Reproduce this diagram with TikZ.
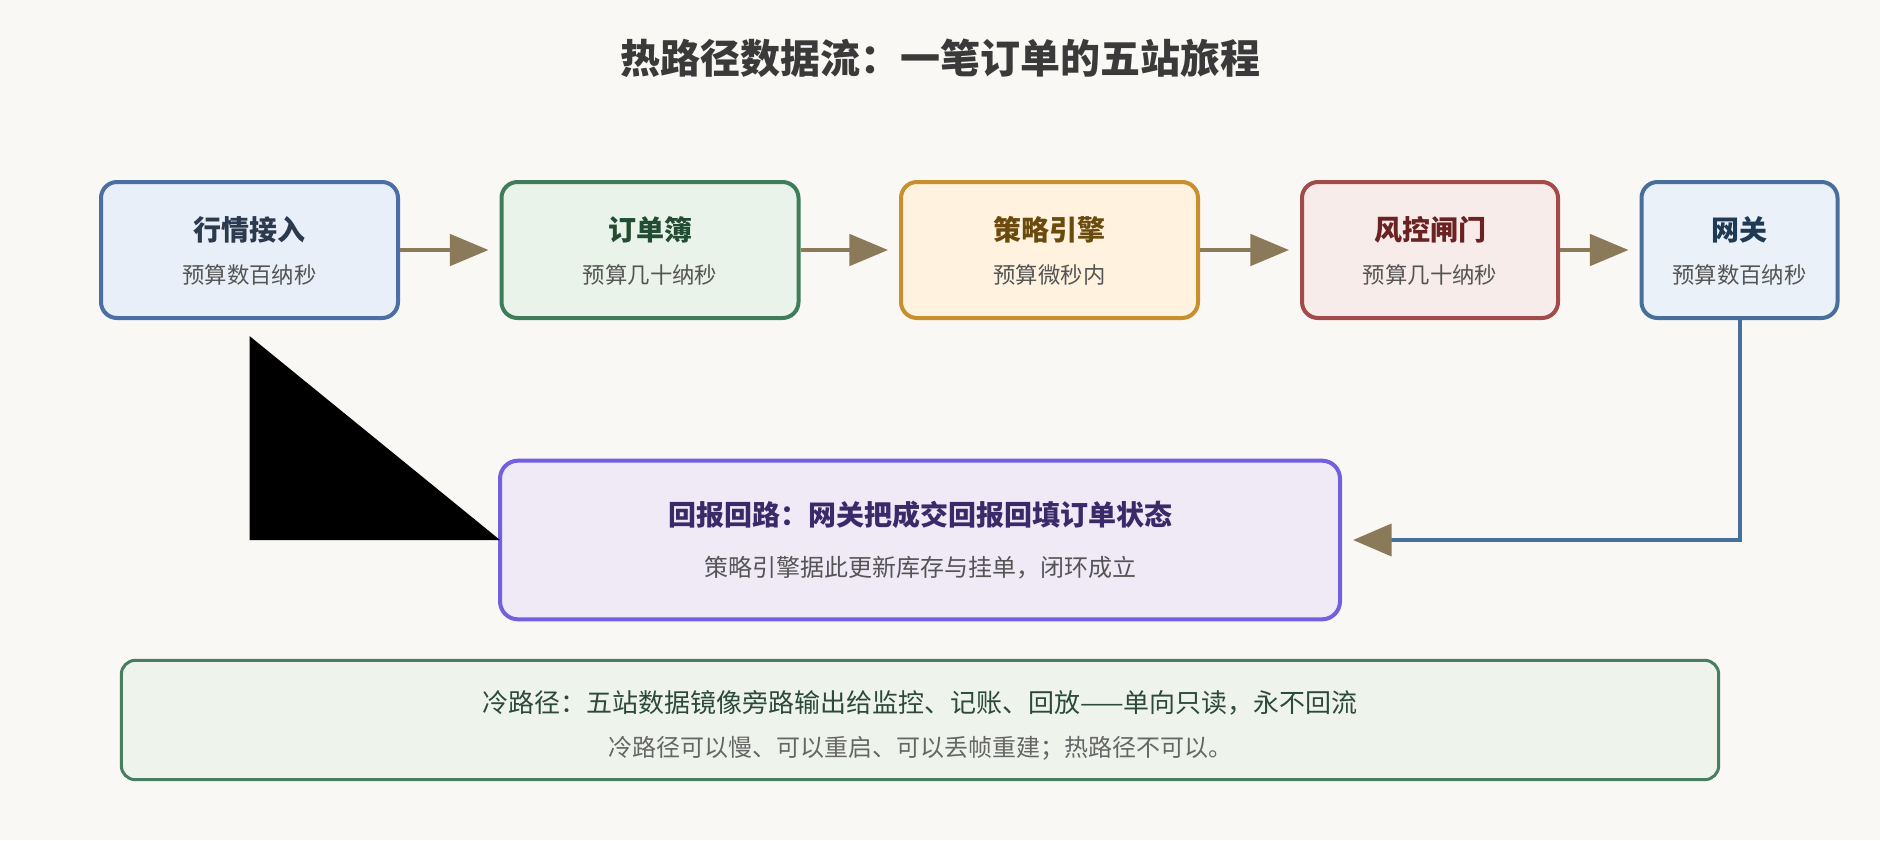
\documentclass[tikz,border=0pt]{standalone}
\usepackage{fontspec}
\setmainfont{Noto Sans CJK SC}
\usetikzlibrary{arrows.meta,positioning}

\definecolor{pagebg}{HTML}{FAF8F4}
\definecolor{titlegray}{HTML}{3A3A3A}
\definecolor{subgray}{HTML}{555555}
\definecolor{arrowbrown}{HTML}{8A7A5A}
\definecolor{feedline}{HTML}{4A6FA5}\definecolor{feedfill}{HTML}{E8EFF8}\definecolor{feedtext}{HTML}{2B3A4F}
\definecolor{bookline}{HTML}{3F7D5A}\definecolor{bookfill}{HTML}{E9F3EA}\definecolor{booktext}{HTML}{234D33}
\definecolor{stratline}{HTML}{C98F2E}\definecolor{stratfill}{HTML}{FFF3E0}\definecolor{strattext}{HTML}{6B4A0E}
\definecolor{riskline}{HTML}{A34A4A}\definecolor{riskfill}{HTML}{F8ECEA}\definecolor{risktext}{HTML}{6B2222}
\definecolor{gateline}{HTML}{46709B}\definecolor{gatefill}{HTML}{EAF1F8}\definecolor{gatetext}{HTML}{1F3A55}
\definecolor{backline}{HTML}{7360E0}\definecolor{backfill}{HTML}{F0EAF7}\definecolor{backtext}{HTML}{3A2A6A}
\definecolor{coldline}{HTML}{4A7D5F}\definecolor{coldfill}{HTML}{EEF4EC}\definecolor{coldtext}{HTML}{2D4A38}\definecolor{coldgray}{HTML}{666666}

\tikzset{
  station/.style={draw, line width=3pt, rounded corners=12pt, minimum height=102pt, outer sep=0pt, inner sep=0pt},
  stitle/.style={font=\fontsize{21}{25}\selectfont\bfseries},
  sbudget/.style={font=\fontsize{16.8}{20}\selectfont, text=subgray},
  hop/.style={draw=arrowbrown, line width=3pt, shorten <=1.5pt, shorten >=9.75pt,
    -{Triangle[length=29pt,width=23.5pt]}},
}

\begin{document}
\begin{tikzpicture}[x=0.75pt, y=-0.75pt]
    \useasboundingbox (0,0) rectangle (1880,840);
    \fill[pagebg] (0,0) rectangle (1880,840);
    \node[font=\fontsize{30}{36}\selectfont\bfseries, text=titlegray] (title) at (940,58) {热路径数据流：一笔订单的五站旅程};
    % five stations of the hot path
    \node[station, draw=feedline, fill=feedfill, minimum width=222.75pt] (feed) at (249.5,250) {};
    \node[station, draw=bookline, fill=bookfill, minimum width=222.75pt] (book) at (650,250) {};
    \node[station, draw=stratline, fill=stratfill, minimum width=222.75pt] (strat) at (1049.5,250) {};
    \node[station, draw=riskline, fill=riskfill, minimum width=192pt] (risk) at (1430,250) {};
    \node[station, draw=gateline, fill=gatefill, minimum width=147pt] (gate) at (1739.5,250) {};
    \node[stitle, text=feedtext] (feedT) at ([yshift=15pt]feed.center) {行情接入};
    \node[sbudget] (feedB) at ([yshift=-18.75pt]feed.center) {预算数百纳秒};
    \node[stitle, text=booktext] (bookT) at ([yshift=15pt]book.center) {订单簿};
    \node[sbudget] (bookB) at ([yshift=-18.75pt]book.center) {预算几十纳秒};
    \node[stitle, text=strattext] (stratT) at ([yshift=15pt]strat.center) {策略引擎};
    \node[sbudget] (stratB) at ([yshift=-18.75pt]strat.center) {预算微秒内};
    \node[stitle, text=risktext] (riskT) at ([yshift=15pt]risk.center) {风控闸门};
    \node[sbudget] (riskB) at ([yshift=-18.75pt]risk.center) {预算几十纳秒};
    \node[stitle, text=gatetext] (gateT) at ([yshift=15pt]gate.center) {网关};
    \node[sbudget] (gateB) at ([yshift=-18.75pt]gate.center) {预算数百纳秒};
    \draw[hop] (feed.east) -- (book.west);
    \draw[hop] (book.east) -- (strat.west);
    \draw[hop] (strat.east) -- (risk.west);
    \draw[hop] (risk.east) -- (gate.west);
    % report loop back
    \node[station, draw=backline, fill=backfill, minimum width=630pt, minimum height=119pt, rounded corners=13.5pt] (back) at (920,540) {};
    \node[font=\fontsize{21}{25}\selectfont\bfseries, text=backtext] (backT) at ([yshift=18.75pt]back.center) {回报回路：网关把成交回报回填订单状态};
    \node[font=\fontsize{18}{22}\selectfont, text=subgray] (backB) at ([yshift=-21pt]back.center) {策略引擎据此更新库存与挂单，闭环成立};
    \draw[draw=gateline, line width=3pt, shorten >=9.75pt,
      -{Triangle[length=29pt,width=24pt,color=arrowbrown,fill=arrowbrown]}] (gate.south) |- (back.east);
    \fill[black] ([yshift=-13.5pt]feed.south) -- (feed.south |- back.west) -- (back.west) -- cycle;
    % cold path note
    \node[station, draw=coldline, fill=coldfill, line width=2.25pt, minimum width=1198pt, minimum height=89.5pt, rounded corners=10.5pt] (cold) at (920,720) {};
    \node[font=\fontsize{19.5}{23}\selectfont, text=coldtext] (coldT) at ([yshift=12.75pt]cold.center) {冷路径：五站数据镜像旁路输出给监控、记账、回放——单向只读，永不回流};
    \node[font=\fontsize{18}{22}\selectfont, text=coldgray] (coldB) at ([yshift=-21pt]cold.center) {冷路径可以慢、可以重启、可以丢帧重建；热路径不可以。};
\end{tikzpicture}
\end{document}
